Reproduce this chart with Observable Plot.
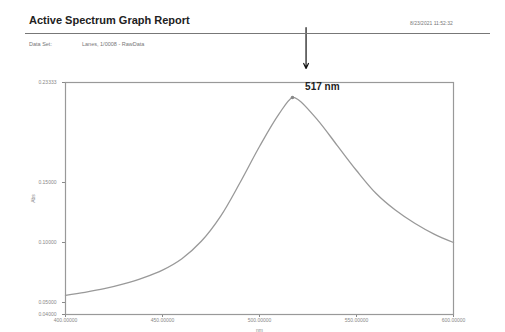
<!DOCTYPE html>
<html>
<head>
<meta charset="utf-8">
<script src="https://cdn.jsdelivr.net/npm/d3@7"></script>
<script src="https://cdn.jsdelivr.net/npm/@observablehq/plot@0.6"></script>
<style>
  html, body { margin: 0; padding: 0; background: #fff; }
  body { width: 505px; height: 332px; position: relative; overflow: hidden; font-family: "Liberation Sans", Arial, sans-serif; }
  .abs { position: absolute; white-space: nowrap; }
  #chart { position: absolute; left: 0; top: 0; }
</style>
</head>
<body>
<div id="chart"></div>
<div class="abs" style="left:29px; top:14px; font-size:11px; font-weight:bold; color:#222;">Active Spectrum Graph Report</div>
<div class="abs" style="left:410px; top:20px; font-size:5px; color:#777;">8/23/2021 11:52:32</div>
<div class="abs" style="left:25px; top:33px; width:465px; height:1px; background:#777;"></div>
<div class="abs" style="left:29px; top:41px; font-size:5.5px; color:#777;">Data Set:</div>
<div class="abs" style="left:82px; top:41px; font-size:5.5px; color:#777;">Lanes, 1/0008 - RawData</div>
<script>
// Spectrum data (wavelength nm, absorbance)
const wavelengths = [400, 410, 420, 430, 440, 450, 460, 470, 480, 490, 500, 510, 517, 520, 530, 540, 550, 560, 570, 580, 590, 600];
const absorbance  = [0.056, 0.0585, 0.0615, 0.0655, 0.0705, 0.077, 0.0865, 0.101, 0.122, 0.150, 0.180, 0.207, 0.2208, 0.219, 0.202, 0.181, 0.160, 0.141, 0.127, 0.116, 0.107, 0.100];
const xTicks = [400, 450, 500, 550, 600];
const yTicks = [0.04, 0.05, 0.10, 0.15, 0.23333];
const peakNm = 517;
const peakAbs = 0.2208;
const peakLabel = "517 nm";

const data = wavelengths.map((w, i) => ({nm: w, abs: absorbance[i]}));

const plot = Plot.plot({
  width: 505,
  height: 332,
  marginLeft: 65,
  marginRight: 52,
  marginTop: 82,
  marginBottom: 18,
  style: {fontFamily: "Liberation Sans, Arial, sans-serif", fontSize: "5px", color: "#888", background: "transparent"},
  x: {domain: [400, 600], ticks: xTicks, tickFormat: d => d.toFixed(5), tickSize: 3, tickPadding: 1, label: "nm", labelAnchor: "center", labelArrow: "none", labelOffset: 17},
  y: {domain: [0.04, 0.23333], ticks: yTicks, tickFormat: d => d.toFixed(5), tickSize: 3, label: "Abs", labelAnchor: "center", labelArrow: "none", labelOffset: 34},
  marks: [
    Plot.frame({stroke: "#999", strokeWidth: 1.2}),
    Plot.line(data, {x: "nm", y: "abs", stroke: "#999", strokeWidth: 1.3, curve: "catmull-rom"}),
    Plot.dot([{nm: peakNm, abs: peakAbs}], {x: "nm", y: "abs", r: 1.8, fill: "#888"}),
    Plot.arrow([{x: 524, y1: 0.279, y2: 0.245}], {x1: "x", x2: "x", y1: "y1", y2: "y2", stroke: "#111", strokeWidth: 1.2, headLength: 7, headAngle: 50}),
    Plot.text([{x: 523.5, y: 0.2295, t: peakLabel}], {x: "x", y: "y", text: "t", textAnchor: "start", fontSize: 10, fontWeight: "bold", fill: "#222"})
  ]
});
document.getElementById("chart").appendChild(plot);
</script>
</body>
</html>
